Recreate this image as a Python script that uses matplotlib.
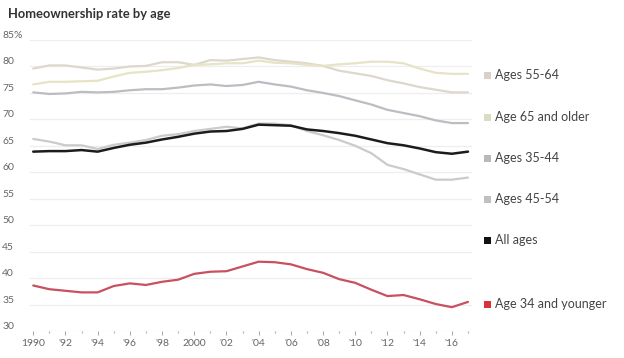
import numpy as np
import matplotlib.pyplot as plt
from matplotlib.patches import Rectangle

plt.rcParams['font.family'] = ['Lato', 'DejaVu Sans']

# Annual homeownership rate (%), 1990-2017
years = np.arange(1990, 2018)
ages_55_64 = [79.6, 80.2, 80.2, 79.8, 79.4, 79.6, 80.0, 80.1, 80.8, 80.8, 80.3, 81.2, 81.1, 81.4, 81.7, 81.2, 80.9, 80.6,
              80.1, 79.2, 78.7, 78.2, 77.4, 76.8, 76.1, 75.6, 75.1, 75.1]
ages_65_up = [76.6, 77.1, 77.1, 77.2, 77.3, 78.1, 78.8, 79.0, 79.3, 79.7, 80.3, 80.4, 80.6, 80.6, 81.1, 80.7, 80.6, 80.3,
              80.1, 80.4, 80.6, 80.9, 80.9, 80.6, 79.6, 78.8, 78.6, 78.6]
ages_35_44 = [66.3, 65.8, 65.1, 65.1, 64.4, 65.2, 65.6, 66.1, 66.9, 67.2, 67.8, 68.2, 68.6, 68.3, 69.2, 69.2, 68.9, 67.8,
              67.0, 66.1, 65.0, 63.6, 61.4, 60.6, 59.6, 58.6, 58.6, 59.0]
ages_45_54 = [75.1, 74.8, 74.9, 75.2, 75.1, 75.2, 75.5, 75.7, 75.7, 76.0, 76.4, 76.6, 76.3, 76.5, 77.1, 76.6, 76.2, 75.5,
              75.0, 74.4, 73.6, 72.8, 71.8, 71.2, 70.6, 69.8, 69.3, 69.3]
all_ages = [63.9, 64.0, 64.0, 64.2, 63.9, 64.6, 65.2, 65.6, 66.2, 66.7, 67.3, 67.7, 67.8, 68.2, 69.0, 68.9, 68.8, 68.1,
            67.8, 67.4, 66.9, 66.2, 65.5, 65.1, 64.5, 63.8, 63.5, 63.9]
ages_under_35 = [38.6, 37.9, 37.6, 37.3, 37.3, 38.5, 39.0, 38.7, 39.3, 39.7, 40.8, 41.2, 41.3, 42.2, 43.1, 43.0, 42.6, 41.7,
                 41.0, 39.8, 39.1, 37.8, 36.6, 36.8, 36.0, 35.1, 34.5, 35.5]

series = [ages_55_64, ages_65_up, ages_35_44, ages_45_54, all_ages, ages_under_35]
labels = ['Ages 55-64', 'Age 65 and older', 'Ages 35-44', 'Ages 45-54', 'All ages', 'Age 34 and younger']
line_colors = ['#ddd8cc', '#e6e3c6', '#cbcbcb', '#bcbcc3', '#1c1c1c', '#c9505e']
swatch_colors = ['#d9d0ca', '#dcdcc2', '#b9b9b9', '#c0c0c0', '#111111', '#d8323f']
label_y = [75, 117, 158, 199, 240, 304]  # pixel rows of legend entries

yticks = [30, 35, 40, 45, 50, 55, 60, 65, 70, 75, 80, 85]
ytick_labels = ['30', '35', '40', '45', '50', '55', '60', '65', '70', '75', '80', '85%']
xticks = list(range(1990, 2018, 2))
xtick_labels = ['1990', "'92", "'94", "'96", "'98", '2000', "'02", "'04", "'06", "'08", "'10", "'12", "'14", "'16"]

W, H = 624, 358
fig = plt.figure(figsize=(W / 100, H / 100), dpi=100)
ax = fig.add_axes([30 / W, 1 - 331 / H, 442 / W, 291 / H])

for vals, c in zip(series, line_colors):
    lw = 1.8 if c == '#1c1c1c' else 1.6
    ax.plot(years, vals, color=c, lw=lw, solid_capstyle='round', zorder=3)

ax.set_xlim(1989.8, 2017.25)
ax.set_ylim(30, 85)
ax.set_yticks(yticks)
ax.set_yticklabels(ytick_labels)
ax.set_xticks(xticks)
ax.set_xticklabels(xtick_labels)
ax.set_xticks(range(1990, 2018), minor=True)
ax.grid(axis='y', color='#eeeeee', lw=0.9, zorder=0)
for s in ax.spines.values():
    s.set_visible(False)

ax.tick_params(axis='y', length=0, pad=20, labelsize=7.5, labelcolor='#666666')
for t in ax.get_yticklabels():
    t.set_horizontalalignment('left')
    t.set_verticalalignment('bottom')
ax.tick_params(axis='x', which='major', length=3, width=0.8, color='#aaaaaa', pad=3,
               labelsize=7.5, labelcolor='#666666')
ax.tick_params(axis='x', which='minor', length=1.5, width=0.8, color='#aaaaaa')

fig.text(8 / W, 1 - 14 / H, 'Homeownership rate by age', fontsize=9.3, fontweight='bold',
         color='#333333', va='center', ha='left')

for lab, sc, py in zip(labels, swatch_colors, label_y):
    fig.add_artist(Rectangle((484 / W, 1 - (py + 3.5) / H), 7 / W, 7 / H,
                             transform=fig.transFigure, color=sc, lw=0))
    fig.text(495 / W, 1 - py / H, lab, fontsize=9, color='#444444', va='center', ha='left')

fig.savefig('out.png', dpi=100, facecolor='white')
